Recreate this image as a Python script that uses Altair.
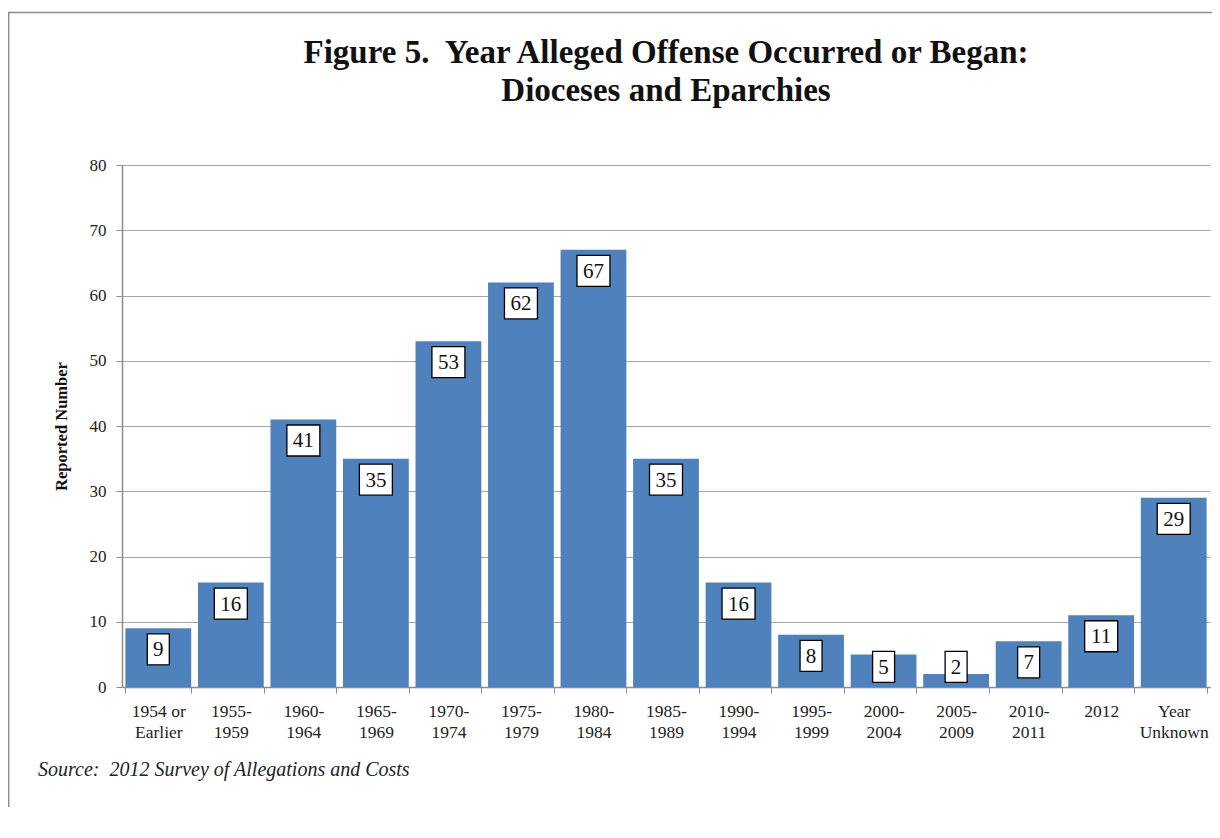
import altair as alt
import pandas as pd

categories = ["1954 or|Earlier", "1955-|1959", "1960-|1964", "1965-|1969", "1970-|1974",
              "1975-|1979", "1980-|1984", "1985-|1989", "1990-|1994", "1995-|1999",
              "2000-|2004", "2005-|2009", "2010-|2011", "2012", "Year|Unknown"]
values = [9, 16, 41, 35, 53, 62, 67, 35, 16, 8, 5, 2, 7, 11, 29]

title_lines = ["Figure 5.\u00a0 Year Alleged Offense Occurred or Began:", "Dioceses and Eparchies"]
y_title = "Reported Number"
source_text = "Source:\u00a0 2012 Survey of Allegations and Costs"

df = pd.DataFrame({"cat": categories, "value": values})
df["label_y"] = [max(v - 3.22, 3.07) for v in values]
df["digits"] = [str(len(str(v))) for v in values]
df["text"] = [str(v) for v in values]

W, H = 1088, 522
SERIF = "Liberation Serif"
GREY = "#8c8c8c"

box1 = "M-0.647,-0.912L0.647,-0.912L0.647,0.912L-0.647,0.912Z"
box2 = "M-0.97,-0.912L0.97,-0.912L0.97,0.912L-0.97,0.912Z"

xenc = alt.X("cat:N", sort=categories,
             scale=alt.Scale(paddingInner=0.093, paddingOuter=0.047),
             axis=alt.Axis(title=None, labelAngle=0, labelExpr="split(datum.label, '|')",
                           labelFont=SERIF, labelFontSize=17.5, labelColor="#222",
                           labelLineHeight=21, labelPadding=9, tickBand="extent",
                           tickSize=6, tickColor=GREY, domainColor=GREY, domainWidth=1.5,
                           labelBaseline="top"))
yenc = alt.Y("value:Q", scale=alt.Scale(domain=[0, 80]),
             axis=alt.Axis(title=y_title, values=list(range(0, 81, 10)),
                           titleFont=SERIF, titleFontSize=16.5, titleFontWeight="bold",
                           titleColor="#111", titlePadding=20,
                           labelFont=SERIF, labelFontSize=17, labelColor="#222",
                           labelPadding=10, tickSize=6, tickColor=GREY,
                           domainColor=GREY, domainWidth=1.5,
                           grid=True, gridColor="#a6a6a6", gridWidth=1))

bars = alt.Chart(df).mark_bar(color="#4f81bd").encode(x=xenc, y=yenc)

boxes = alt.Chart(df).mark_point(fill="white", stroke="black", strokeWidth=1.3,
                                 opacity=1, fillOpacity=1, size=1156).encode(
    x=alt.X("cat:N", sort=categories),
    y=alt.Y("label_y:Q"),
    shape=alt.Shape("digits:N", scale=alt.Scale(domain=["1", "2"], range=[box1, box2]),
                    legend=None),
)

texts = alt.Chart(df).mark_text(font=SERIF, fontSize=21, color="#111",
                                baseline="middle", dy=1).encode(
    x=alt.X("cat:N", sort=categories),
    y=alt.Y("label_y:Q"),
    text="text:N",
)

source = alt.Chart(pd.DataFrame({"t": [source_text]})).mark_text(
    font=SERIF, fontSize=20, fontStyle="italic", color="#222", align="left",
    baseline="alphabetic").encode(
    x=alt.value(-84), y=alt.value(H + 89), text="t:N")

frame = alt.Chart(pd.DataFrame({"a": [0]})).mark_rect(
    fill="transparent", stroke=GREY, strokeWidth=1.5).encode(
    x=alt.value(-113.3), x2=alt.value(W + 300),
    y=alt.value(-152.5), y2=alt.value(H + 400))

chart = alt.layer(frame, bars, boxes, texts, source).properties(
    width=W, height=H,
    title=alt.Title(title_lines, font=SERIF, fontSize=33, fontWeight="bold",
                    color="#111", lineHeight=38, anchor="middle", offset=-122,
                    baseline="alphabetic"),
    autosize=alt.AutoSizeParams(type="none"),
    padding={"left": 114, "top": 157, "right": 2, "bottom": 120},
).configure_view(stroke=None)

chart.save("out.html", embed_options={"renderer": "svg", "actions": False})
